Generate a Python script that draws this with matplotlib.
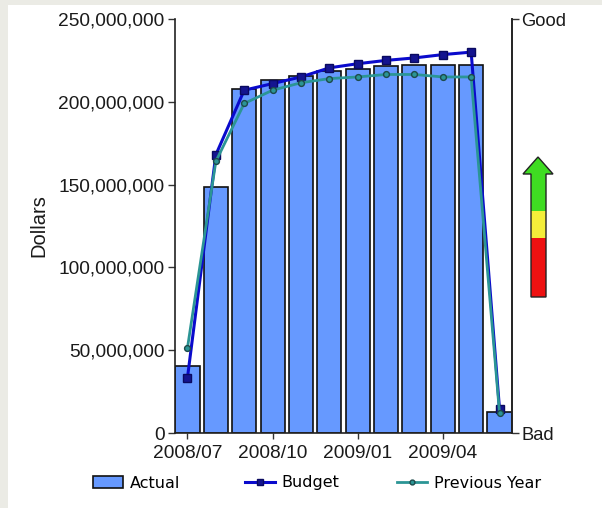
import matplotlib
matplotlib.use("Agg")
import matplotlib.pyplot as plt
from matplotlib.patches import Polygon, Rectangle
from matplotlib.ticker import FuncFormatter
from matplotlib.lines import Line2D
from matplotlib.patches import Patch

# Monthly cumulative dollars, 2008/07 - 2009/06
months = ["2008/07", "2008/08", "2008/09", "2008/10", "2008/11", "2008/12",
          "2009/01", "2009/02", "2009/03", "2009/04", "2009/05", "2009/06"]
actual = [40.5e6, 148.5e6, 207.5e6, 213e6, 215.5e6, 218.5e6,
          220e6, 221.5e6, 222.5e6, 222.5e6, 222.5e6, 12.5e6]
budget = [33.5e6, 168e6, 207e6, 211e6, 215e6, 220.5e6,
          223e6, 225e6, 226.5e6, 228.5e6, 230e6, 14.5e6]
previous_year = [51.5e6, 164e6, 199e6, 207e6, 211.5e6, 214e6,
                 215e6, 216.5e6, 216.5e6, 215e6, 215e6, 12e6]
shown_ticks = ["2008/07", "2008/10", "2009/01", "2009/04"]
y_ticks = [0, 50e6, 100e6, 150e6, 200e6, 250e6]

W, H = 602, 508
fig = plt.figure(figsize=(W / 100, H / 100), dpi=100, facecolor="white")


def fx(px):
    return px / W


def fy(py):
    return 1 - py / H


# light frame strips along the top and left edges
fig.patches.append(Rectangle((0, fy(5)), 1, 5 / H, transform=fig.transFigure,
                             facecolor="#ebebe5", edgecolor="none", zorder=0))
fig.patches.append(Rectangle((0, 0), 8 / W, 1, transform=fig.transFigure,
                             facecolor="#ebebe5", edgecolor="none", zorder=0))

ax = fig.add_axes([fx(175), fy(433), fx(512) - fx(175), (433 - 19) / H])
ax.set_facecolor("white")

x = list(range(len(months)))
ax.bar(x, actual, width=0.85, color="#6699ff", edgecolor="#111111",
       linewidth=1.2, zorder=2)
ax.plot(x, budget, color="#0a0acc", linewidth=2.2, marker="s", markersize=5.5,
        markerfacecolor="#141490", markeredgecolor="#0a0a60", zorder=3)
ax.plot(x, previous_year, color="#2b9595", linewidth=2.0, marker="o",
        markersize=4.2, markerfacecolor="#2b9595", markeredgecolor="#1d4a4a",
        zorder=4)

ax.set_xlim(-0.44, len(months) - 1 + 0.44)
ax.set_ylim(0, 250e6)
ax.set_yticks(y_ticks)
ax.yaxis.set_major_formatter(FuncFormatter(lambda v, p: f"{v:,.0f}"))
ax.set_xticks([months.index(m) for m in shown_ticks])
ax.set_xticklabels(shown_ticks)

for lab in ax.get_xticklabels() + ax.get_yticklabels():
    lab.set_fontfamily("Liberation Sans")
    lab.set_fontsize(13.8)
    lab.set_color("#1a1a1a")
ax.tick_params(axis="x", direction="out", length=4.5, width=1.0,
               color="#333333", pad=4.5)
ax.tick_params(axis="y", direction="out", length=5, width=1.0,
               color="#333333", pad=2.5)

ax.spines["top"].set_visible(False)
for s in ["left", "bottom", "right"]:
    ax.spines[s].set_linewidth(1.2)
    ax.spines[s].set_color("#222222")

ax.set_ylabel("Dollars", family="Liberation Sans", size=14.5, color="#1a1a1a")
ax.yaxis.set_label_coords((48 - 175) / 337, 0.5)

# Good / Bad scale on the right
ax2 = ax.twinx()
ax2.set_ylim(0, 250e6)
ax2.set_yticks([0, 250e6])
ax2.set_yticklabels(["Bad", "Good"], family="Liberation Sans", size=13.2,
                    color="#1a1a1a")
ax2.tick_params(axis="y", direction="out", length=5, width=1.0,
                color="#333333", pad=1.5)
for s in ["top", "left", "bottom"]:
    ax2.spines[s].set_visible(False)
ax2.spines["right"].set_linewidth(1.2)
ax2.spines["right"].set_color("#222222")

# status arrow: green / yellow / red
t = fig.transFigure
head = [(523, 174), (538, 157), (553, 174), (546, 174), (546, 211),
        (531, 211), (531, 174)]
fig.patches.append(Polygon([(fx(a), fy(b)) for a, b in head], closed=True,
                           transform=t, facecolor="#3fdc22", edgecolor="none"))
fig.patches.append(Rectangle((fx(531), fy(238)), 15 / W, 27 / H, transform=t,
                             facecolor="#f4ee3a", edgecolor="none"))
fig.patches.append(Rectangle((fx(531), fy(297)), 15 / W, 59 / H, transform=t,
                             facecolor="#ee1111", edgecolor="none"))
outline = [(523, 174), (538, 157), (553, 174), (546, 174), (546, 297),
           (531, 297), (531, 174)]
fig.patches.append(Polygon([(fx(a), fy(b)) for a, b in outline], closed=True,
                           transform=t, facecolor="none", edgecolor="#222222",
                           linewidth=1.0))

# legend entries, one per column
handles = [
    Patch(facecolor="#6699ff", edgecolor="#111111", linewidth=1.2),
    Line2D([], [], color="#0a0acc", linewidth=2.2, marker="s", markersize=4.5,
           markerfacecolor="#141490", markeredgecolor="#0a0a60"),
    Line2D([], [], color="#2b9595", linewidth=2.0, marker="o", markersize=3.5,
           markerfacecolor="#2b9595", markeredgecolor="#1d4a4a"),
]
labels = ["Actual", "Budget", "Previous Year"]
for h, lab, left in zip(handles, labels, [93, 245, 397]):
    fig.legend([h], [lab], loc="center left",
               bbox_to_anchor=(fx(left), fy(483)), frameon=False,
               prop=dict(family="DejaVu Sans", size=11.5), handlelength=1.9,
               handleheight=0.75, handletextpad=0.4,
               borderaxespad=0, borderpad=0)

fig.savefig("out.png", dpi=100, facecolor=fig.get_facecolor())
